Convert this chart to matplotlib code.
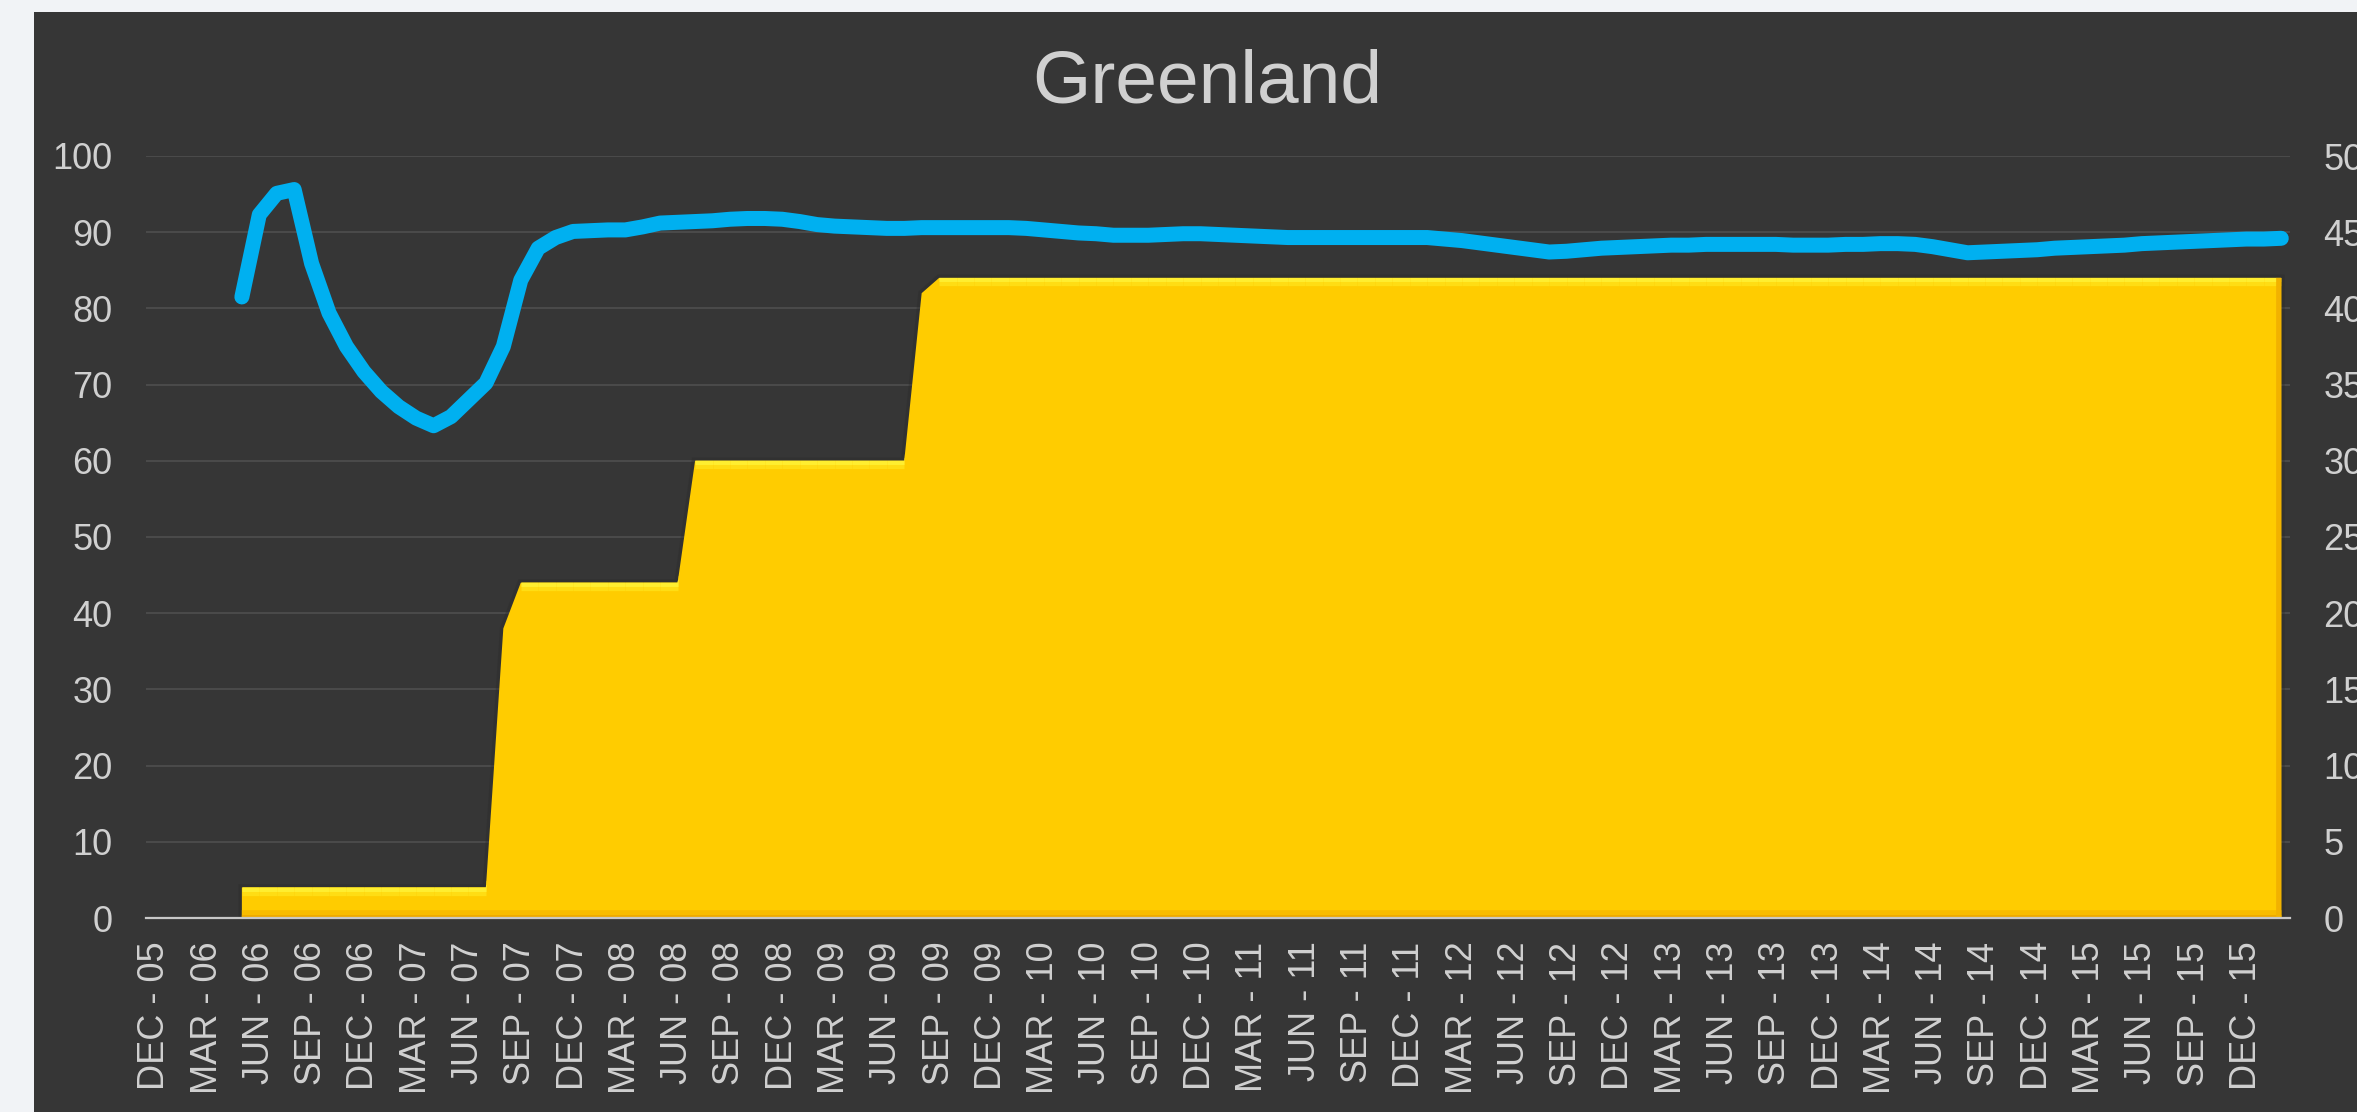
"""
Greenland: area (right axis, 0-50) + thick line (left axis, 0-100)
dark Excel-style panel, bevelled yellow area
"""
import matplotlib.pyplot as plt
import matplotlib as mpl
import numpy as np
import pandas as pd
from matplotlib.patches import Rectangle
from matplotlib.collections import LineCollection

mpl.rcParams["font.family"] = ["Liberation Sans", "DejaVu Sans"]

PAGE = "#F1F3F6"
PANEL = "#363636"
GRID = "#4A4A4A"
TEXT = "#D0D0D0"
AXIS = "#C8C8C8"
BLUE = "#00B0F0"
YELLOW = "#FFCC00"
YELLOW_HI = "#FFEE30"
YELLOW_MID = "#FFDD14"
YELLOW_LO = "#EEAA00"
SHADOW = "#2A2A2A"

# monthly categories, Dec 2005 .. Feb 2016
categories = pd.date_range("2005-12-01", "2016-02-01", freq="MS")
series_start = pd.Timestamp("2006-05-01")

# left axis series (line), one value per month from May 2006
line_values = [
    81.5, 92.3, 95.1, 95.6, 85.9, 79.4, 75.0, 71.7, 69.1, 67.1,
    65.6, 64.6, 65.8, 68.0, 70.2, 75.0, 83.7, 87.9, 89.3, 90.1,
    90.2, 90.3, 90.3, 90.7, 91.2, 91.3, 91.4, 91.5, 91.7, 91.8,
    91.8, 91.7, 91.4, 91.0, 90.8, 90.7, 90.6, 90.5, 90.5, 90.6,
    90.6, 90.6, 90.6, 90.6, 90.6, 90.5, 90.3, 90.1, 89.9, 89.8,
    89.6, 89.6, 89.6, 89.7, 89.8, 89.8, 89.7, 89.6, 89.5, 89.4,
    89.3, 89.3, 89.3, 89.3, 89.3, 89.3, 89.3, 89.3, 89.3, 89.1,
    88.9, 88.6, 88.3, 88.0, 87.7, 87.4, 87.5, 87.7, 87.9, 88.0,
    88.1, 88.2, 88.3, 88.3, 88.4, 88.4, 88.4, 88.4, 88.4, 88.3,
    88.3, 88.3, 88.4, 88.4, 88.5, 88.5, 88.4, 88.1, 87.7, 87.3,
    87.4, 87.5, 87.6, 87.7, 87.9, 88.0, 88.1, 88.2, 88.3, 88.5,
    88.6, 88.7, 88.8, 88.9, 89.0, 89.1, 89.1, 89.2,
]

# right axis series (area), same months
area_values = [2] * 15 + [19] + [22] * 10 + [30] * 13 + [41] + [42] * 78

left_ticks = list(range(0, 101, 10))
right_ticks = list(range(0, 51, 5))

W, H = 2357, 1112
fig = plt.figure(figsize=(W / 100, H / 100), dpi=100, facecolor=PAGE)
fig.patches.append(
    Rectangle((34 / W, 0), 1, 1 - 12 / H, transform=fig.transFigure,
              facecolor=PANEL, edgecolor="none", zorder=-1)
)

ax = fig.add_axes([146 / W, 1 - 918 / H, (2290 - 146) / W, (918 - 156) / H])
ax.set_facecolor("none")
ax2 = ax.twinx()

x = np.arange(len(categories))
s0 = categories.get_loc(series_start)
xs = x[s0:s0 + len(line_values)]
av = np.asarray(area_values, dtype=float)

# ---- area with a rough bevel look
px = np.r_[xs[0], xs, xs[-1]]
py = np.r_[0, av, 0]
ax.plot(px, py, color=SHADOW, lw=5, alpha=0.35, solid_joinstyle="miter", zorder=1.5)
area = ax.fill(px, py, color=YELLOW, lw=0, zorder=1.6)[0]

flat = [((xs[i], av[i]), (xs[i + 1], av[i + 1]))
        for i in range(len(av) - 1) if av[i] == av[i + 1]]
for col, lw, z in ((YELLOW_MID, 11, 1.7), (YELLOW_HI, 5, 1.8)):
    lc = LineCollection(flat, colors=col, linewidths=lw, capstyle="butt", zorder=z)
    ax.add_collection(lc)
    lc.set_clip_path(area)

for col, lw, z in (("#F8BC00", 12, 1.7), (YELLOW_LO, 5, 1.8)):
    ln, = ax.plot([xs[0], xs[-1]], [0, 0], color=col, lw=lw, zorder=z)
    ln.set_clip_path(area)
edge, = ax.plot([xs[-1], xs[-1]], [0, av[-1]], color="#F2B200", lw=7, zorder=1.8)
edge.set_clip_path(area)

# ---- line
ax2.plot(xs, line_values, color=BLUE, lw=10.8,
         solid_capstyle="round", solid_joinstyle="round", zorder=3)

ax.set_xlim(-0.5, len(categories) - 0.5)
ax.set_ylim(0, 50)
ax2.set_ylim(0, 100)
ax.set_yticks(right_ticks)
ax2.set_yticks(left_ticks)
ax.yaxis.tick_right()
ax2.yaxis.tick_left()

ax.yaxis.grid(True, color=GRID, lw=1.5)
ax.set_axisbelow(True)

tick_pos = x[::3]
tick_labels = [f"{d.strftime('%b').upper()} - {d.strftime('%y')}" for d in categories[::3]]
ax.set_xticks(tick_pos)
ax.set_xticklabels(tick_labels, rotation=90)

ax.tick_params(axis="x", length=0, pad=17, labelsize=26, labelcolor=TEXT)
ax.tick_params(axis="y", length=0, pad=24, labelsize=26, labelcolor=TEXT)
ax2.tick_params(axis="y", length=0, pad=24, labelsize=26, labelcolor=TEXT)

for s in ("top", "right", "left"):
    ax.spines[s].set_visible(False)
for s in ax2.spines.values():
    s.set_visible(False)
ax.spines["bottom"].set_color(AXIS)
ax.spines["bottom"].set_linewidth(1.6)

fig.text(1207 / W, 1 - 102.7 / H, "Greenland", ha="center", va="baseline",
         fontsize=54, color=TEXT)

fig.savefig("out.png", dpi=100, facecolor=PAGE)
